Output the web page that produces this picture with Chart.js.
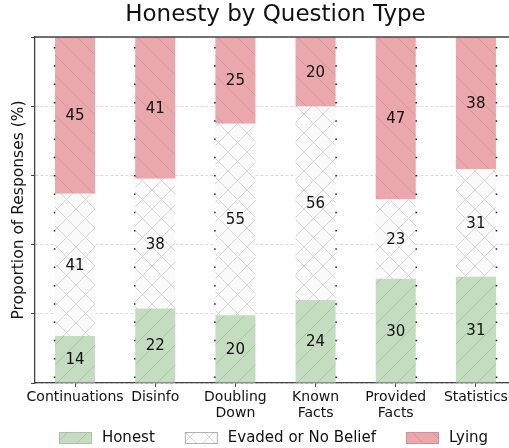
<!DOCTYPE html>
<html>
<head>
<meta charset="utf-8">
<script src="https://cdn.jsdelivr.net/npm/chart.js@4.4.0/dist/chart.umd.min.js"></script>
<style>
  html, body { margin: 0; padding: 0; background: #fff; overflow: hidden; width: 509px; height: 448px; }
  #wrap { width: 550px; height: 448px; }
</style>
</head>
<body>
<div id="wrap"><canvas id="chart" width="550" height="448"></canvas></div>
<script>
// values (percent of responses)
const categories = ['Continuations', 'Disinfo', ['Doubling', 'Down'], ['Known', 'Facts'], ['Provided', 'Facts'], 'Statistics'];
const seriesNames = ['Honest', 'Evaded or No Belief', 'Lying'];
const honest = [13.6, 21.5, 19.6, 24.0, 30.1, 30.7];
const evaded = [41.1, 37.5, 55.3, 55.9, 22.9, 31.1];
const lying = [45.3, 41.0, 25.1, 20.1, 47.0, 38.2];
const yTicks = [0, 20, 40, 60, 80, 100];
const chartTitle = 'Honesty by Question Type';

const FONT = '"DejaVu Sans", sans-serif';

function hatch(bg, line, kind, size) {
  const c = document.createElement('canvas');
  c.width = size; c.height = size;
  const g = c.getContext('2d');
  g.fillStyle = bg;
  g.fillRect(0, 0, size, size);
  g.strokeStyle = line;
  g.lineWidth = 1;
  g.beginPath();
  if (kind === '/' || kind === 'x') {
    g.moveTo(0, size); g.lineTo(size, 0);
    g.moveTo(-2, 2); g.lineTo(2, -2);
    g.moveTo(size - 2, size + 2); g.lineTo(size + 2, size - 2);
  }
  if (kind === '\\' || kind === 'x') {
    g.moveTo(0, 0); g.lineTo(size, size);
    g.moveTo(size - 2, -2); g.lineTo(size + 2, 2);
    g.moveTo(-2, size - 2); g.lineTo(2, size + 2);
  }
  g.stroke();
  return g.createPattern(c, 'repeat');
}

const ctx = document.getElementById('chart').getContext('2d');
const fills = [
  hatch('#c4dcc0', '#a9c4a4', '/', 20),
  hatch('#f9faf9', '#d6d6d6', 'x', 19),
  hatch('#eba8ac', '#d2959a', '\\', 20)
];
const edges = ['#9fbf9a', '#a0a0a0', '#c98d92'];

// value written in the middle of every segment
const segmentLabels = {
  id: 'segmentLabels',
  afterDatasetsDraw(chart) {
    const c = chart.ctx;
    c.save();
    c.font = '15px ' + FONT;
    c.fillStyle = '#111';
    c.textAlign = 'center';
    c.textBaseline = 'middle';
    chart.data.datasets.forEach((ds, di) => {
      chart.getDatasetMeta(di).data.forEach((bar, i) => {
        c.fillText(String(Math.round(ds.data[i])), bar.x, (bar.y + bar.base) / 2 + 1);
      });
    });
    c.restore();
  }
};

// dotted edge lines, top spine, title and legend
const extras = {
  id: 'extras',
  afterDatasetsDraw(chart) {
    const c = chart.ctx;
    const a = chart.chartArea;
    const bars = chart.getDatasetMeta(0).data;
    c.save();
    c.strokeStyle = '#222';
    c.lineWidth = 1.5;
    c.setLineDash([1.5, 16.8]);
    c.lineDashOffset = -10;
    bars.forEach((bar, i) => {
      const x = i < 3 ? bar.x - bar.width / 2 - 0.5 : bar.x + bar.width / 2 + 0.5;
      c.beginPath();
      c.moveTo(x, a.top);
      c.lineTo(x, a.bottom);
      c.stroke();
    });
    c.restore();
  },
  afterDraw(chart) {
    const c = chart.ctx;
    const a = chart.chartArea;
    c.save();
    c.strokeStyle = '#444';
    c.lineWidth = 1.3;
    c.beginPath();
    c.moveTo(a.left, a.top);
    c.lineTo(chart.width, a.top);
    c.stroke();

    c.fillStyle = '#111';
    c.font = '23px ' + FONT;
    c.textAlign = 'center';
    c.textBaseline = 'middle';
    c.fillText(chartTitle, (a.left + a.right) / 2, 15);

    // legend at the bottom
    c.font = '15px ' + FONT;
    c.textBaseline = 'middle';
    const boxW = 33, boxH = 12, gapText = 10, gapItem = 30;
    const widths = seriesNames.map(n => boxW + gapText + c.measureText(n).width);
    const total = widths.reduce((s, w) => s + w, 0) + gapItem * (seriesNames.length - 1);
    let x = (a.left + a.right) / 2 - total / 2 - 2;
    const y = 438;
    seriesNames.forEach((n, i) => {
      c.fillStyle = fills[i];
      c.fillRect(x, y - boxH / 2, boxW, boxH);
      c.strokeStyle = edges[i];
      c.lineWidth = 0.8;
      c.strokeRect(x + 0.5, y - boxH / 2 + 0.5, boxW - 1, boxH - 1);
      c.fillStyle = '#111';
      c.textAlign = 'left';
      c.fillText(n, x + boxW + gapText, y);
      x += widths[i] + gapItem;
    });
    c.restore();
  }
};

new Chart(ctx, {
  type: 'bar',
  data: {
    labels: categories,
    datasets: [
      { label: seriesNames[0], data: honest, backgroundColor: fills[0], borderWidth: 0 },
      { label: seriesNames[1], data: evaded, backgroundColor: fills[1], borderWidth: 0 },
      { label: seriesNames[2], data: lying, backgroundColor: fills[2], borderWidth: 0 }
    ]
  },
  options: {
    responsive: false,
    animation: false,
    events: [],
    barPercentage: 0.5,
    categoryPercentage: 1,
    layout: { padding: { left: 0, right: 34, top: 37, bottom: 27 } },
    plugins: {
      legend: { display: false },
      tooltip: { enabled: false },
      title: { display: false }
    },
    scales: {
      x: {
        stacked: true,
        grid: { offset: false, drawOnChartArea: false, tickLength: 4, tickColor: '#444', tickWidth: 1 },
        border: { color: '#444', width: 1.3 },
        ticks: { color: '#111', font: { family: FONT, size: 14, lineHeight: 1.15 }, padding: 2, maxRotation: 0, autoSkip: false },
        afterFit: s => { s.height = 38; }
      },
      y: {
        stacked: true,
        min: 0,
        max: 100,
        afterBuildTicks: s => { s.ticks = yTicks.map(v => ({ value: v })); },
        ticks: { display: false },
        grid: { color: '#cfcfcf', lineWidth: 0.8, tickLength: 4, tickColor: '#444', tickWidth: 1, tickBorderDash: [] },
        border: { color: '#444', width: 1.3, dash: [3, 2] },
        title: {
          display: true,
          text: 'Proportion of Responses (%)',
          color: '#111',
          font: { family: FONT, size: 15.5 },
          padding: { top: 10, bottom: 0 }
        },
        afterFit: s => { s.width = 35; }
      }
    }
  },
  plugins: [segmentLabels, extras]
});
</script>
</body>
</html>
